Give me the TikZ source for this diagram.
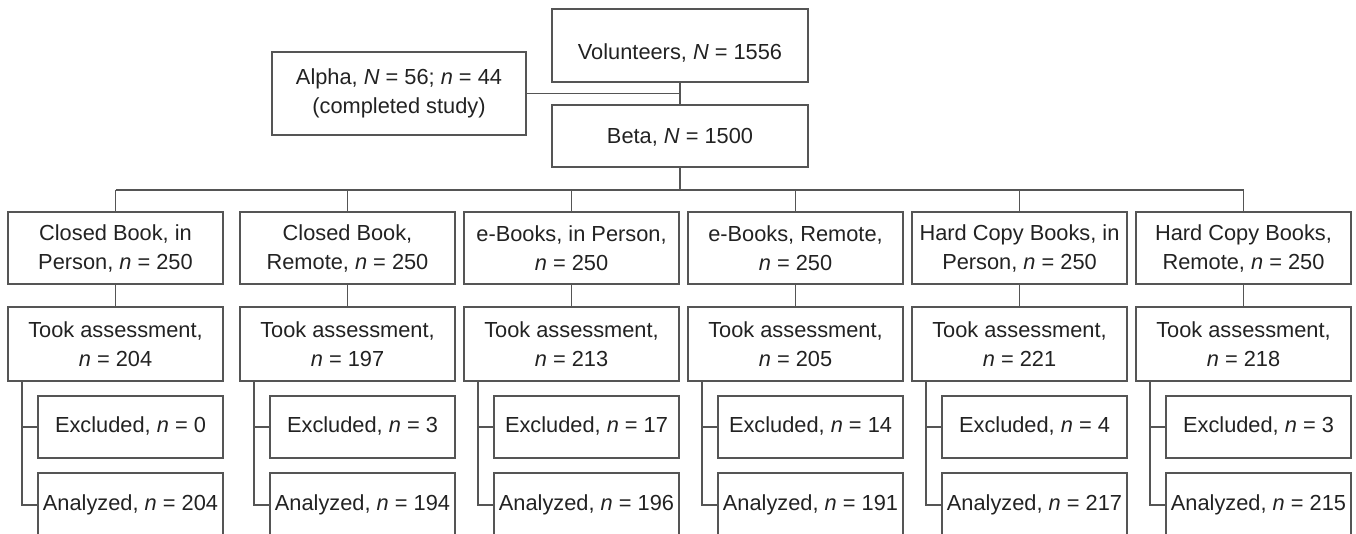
\documentclass[tikz,border=0pt]{standalone}
\usepackage{fontspec}
\setmainfont{Liberation Sans}
\definecolor{linegray}{HTML}{555555}
\definecolor{txt}{HTML}{222222}
\newcommand{\eqs}{ = }
\begin{document}
\begin{tikzpicture}[x=1pt,y=-1pt,
  box/.style={draw=linegray, line width=1.4pt, inner sep=0pt, align=center, text=txt,
    font=\fontsize{21.8}{29}\selectfont},
  grp/.style={box, minimum width=215pt, minimum height=72pt},
  took/.style={box, minimum width=215pt, minimum height=74pt},
  sub/.style={box, minimum width=185pt},
  link/.style={draw=linegray, line width=1.4pt}]
\useasboundingbox (0,0) rectangle (1356,534);

\node[box, minimum width=256pt, minimum height=73pt, text height=29pt, text depth=0pt] (vol) at (680,45.5) {Volunteers, \textit{N}\eqs1556};
\node[box, minimum width=254pt, minimum height=83pt] (alpha) at (399,93.5) {Alpha, \textit{N}\eqs56; \textit{n}\eqs44\\(completed study)};
\node[box, minimum width=256pt, minimum height=62pt, text height=14.6pt, text depth=0pt] (beta) at (680,136) {Beta, \textit{N}\eqs1500};

\draw[link] (vol.south) -- (beta.north);
\draw[link] (alpha.east) -- (alpha.east -| vol.south);
\coordinate (busL) at (115.5,190);
\coordinate (busR) at (1243.5,190);
\draw[link] (busL) -- (busR);
\draw[link] (beta.south) -- (beta.south |- busL);

\foreach \i/\L/\g/\t/\e/\a in {
  1/8/{Closed Book, in\\Person, \textit{n}\eqs250}/204/0/204,
  2/240/{Closed Book,\\Remote, \textit{n}\eqs250}/197/3/194,
  3/464/{e-Books, in Person,\\\textit{n}\eqs250}/213/17/196,
  4/688/{e-Books, Remote,\\\textit{n}\eqs250}/205/14/191,
  5/912/{Hard Copy Books, in\\Person, \textit{n}\eqs250}/221/4/217,
  6/1136/{Hard Copy Books,\\Remote, \textit{n}\eqs250}/218/3/215}{
  \node[grp] (g\i) at (\L+107.5,248) {\g};
  \node[took, text depth=0pt] (t\i) at (\L+107.5,344) {Took assessment,\\\textit{n}\eqs\t};
  \node[sub, minimum height=62pt, text height=10pt, text depth=0pt] (e\i) at (\L+122.5,427) {Excluded, \textit{n}\eqs\e};
  \node[sub, minimum height=64pt, text height=11.4pt, text depth=0pt] (a\i) at (\L+122.5,505) {Analyzed, \textit{n}\eqs\a};
  \coordinate (b\i) at (\L+14,381);
  \draw[link] (g\i.north) -- (g\i.north |- busL);
  \draw[link] (g\i.south) -- (t\i.north);
  \draw[link] (b\i) |- (a\i.west);
  \draw[link] (b\i |- e\i.west) -- (e\i.west);
}
\end{tikzpicture}
\end{document}
